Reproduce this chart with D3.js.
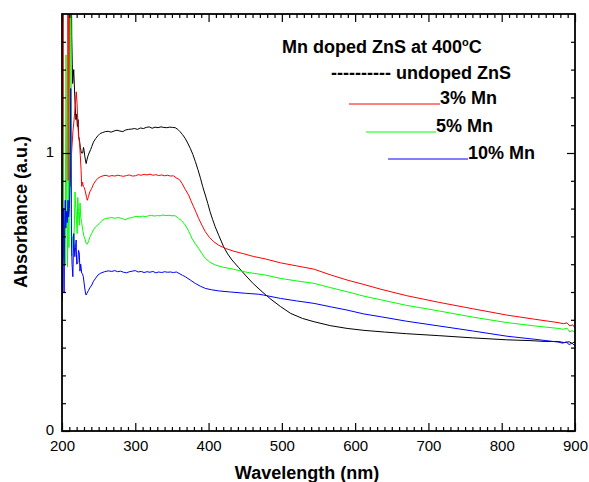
<!DOCTYPE html>
<html>
<head>
<meta charset="utf-8">
<script src="https://cdn.jsdelivr.net/npm/d3@7"></script>
<style>
  html, body { margin: 0; padding: 0; background: #fff; }
  svg { display: block; font-family: "Liberation Sans", Arial, sans-serif; }
</style>
</head>
<body>
<svg id="chart" width="589" height="482"></svg>
<script>
// Absorbance spectra [wavelength nm, absorbance a.u.]
const undopedZnS = [
  [200,0.6],[200.3,1.7],[205,1.75],[210,1.7],[212.6,1.7],[213.3,1.42],[214.5,1.25],[216,1.3],[217.8,1.18],[219,1.12],[220,1.14],[221,1.095],
  [222,1.12],[222.8,1.06],[223.8,1.047],[225,1.02],[226.5,1.0],[228.3,1.0],[229.3,1.02],[230.1,1.01],[231,0.99],[232,0.975],
  [233,0.962],[234,0.975],[235.5,0.99],[237,1.0],[239,1.012],[240.6,1.023],[243,1.04],[246,1.052],[249,1.062],[252,1.07],
  [255,1.073],[259,1.077],[263,1.078],[267,1.075],[271,1.079],[275,1.082],[279,1.079],[283,1.077],[287,1.083],[291,1.085],
  [295,1.086],[299,1.088],[303,1.085],[307,1.09],[311,1.088],[315,1.092],[319,1.094],[323,1.089],[327,1.093],[331,1.091],
  [335,1.094],[339,1.092],[343,1.091],[347,1.093],[351,1.092],[354.5,1.091],[358,1.085],[361,1.077],[364.5,1.066],[368,1.053],
  [371.5,1.036],[375,1.017],[378.5,0.995],[382,0.969],[385.5,0.94],[389,0.909],[392,0.879],[395.5,0.849],[399,0.818],[402,0.789],
  [405.5,0.761],[409,0.735],[414,0.703],[420.5,0.663],[426,0.637],[432,0.615],[441,0.588],[450,0.561],[461,0.53],[473,0.501],
  [485,0.474],[498,0.448],[512,0.423],[528,0.405],[544,0.393],[566,0.379],[589,0.369],[612,0.362],[640,0.356],[670,0.35],
  [714,0.343],[760,0.335],[807,0.328],[840,0.325],[860,0.322],[877,0.322],[885,0.318],[892,0.321],[896,0.315],[900,0.322]
];

const mn3 = [
  [200,0.47],[200.8,1.8],[201.4,0.62],[202,1.8],[203.5,1.7],[205,1.8],[206.5,1.65],[207.5,1.8],[208.3,0.9],[209,1.8],
  [210,1.7],[210.8,0.88],[212,0.95],[213.5,1.02],[215,1.08],[216.5,1.12],[218,1.17],[219.5,1.22],[220.5,1.18],[221.5,1.12],
  [222.5,1.06],[224,1.036],[225,0.99],[226,0.94],[226.9,0.88],[228,0.895],[229.1,0.88],[230.5,0.875],[232,0.86],[233.5,0.84],
  [234.6,0.83],[236,0.843],[238,0.86],[240.6,0.873],[243,0.888],[246,0.9],[249,0.909],[252,0.914],[256,0.918],[260,0.92],
  [264,0.916],[268,0.919],[272,0.917],[276,0.92],[280,0.918],[284,0.916],[288,0.919],[292,0.921],[296,0.917],[300,0.918],
  [304,0.922],[308,0.92],[312,0.923],[316,0.921],[320,0.924],[324,0.92],[328,0.922],[332,0.919],[336,0.921],[340,0.918],
  [344,0.92],[348,0.917],[352,0.918],[356.8,0.909],[360,0.905],[363.7,0.891],[368,0.87],[372.7,0.849],[376,0.828],[379.5,0.807],
  [383,0.786],[386.4,0.765],[391,0.74],[395.5,0.717],[401,0.697],[406.9,0.681],[414,0.668],[422.9,0.657],[434,0.647],[445.7,0.639],
  [461,0.628],[477.5,0.619],[498,0.605],[520,0.594],[544,0.582],[566,0.562],[589,0.543],[612,0.527],[635,0.51],[670,0.487],
  [714,0.463],[760,0.44],[807,0.417],[845,0.402],[877,0.39],[884,0.386],[889,0.389],[893,0.378],[897,0.382],[900,0.37]
];

const mn5 = [
  [200,0.72],[200.7,1.19],[201.5,0.9],[202.3,0.62],[203.3,0.8],[204.3,0.6],[205.5,1.353],[206.5,0.8],[207.5,0.59],[208.5,0.9],
  [209.5,0.66],[210.5,1.0],[211.5,1.6],[212.3,1.45],[213.2,0.63],[214.2,0.7],[215.5,0.66],[216.8,0.73],[217.8,0.86],[218.8,0.8],
  [219.8,0.76],[220.7,0.71],[221.5,0.84],[222.5,0.79],[223.6,0.74],[224.6,0.82],[225.6,0.77],[226.9,0.75],[228.5,0.72],[230,0.7],
  [231.5,0.69],[233,0.675],[234.6,0.672],[236.5,0.685],[238.5,0.7],[240.6,0.711],[243,0.724],[246,0.735],[249,0.741],[252,0.75],
  [256,0.76],[260,0.765],[264,0.766],[268,0.768],[272,0.765],[276,0.768],[280,0.766],[284,0.762],[287,0.76],[290,0.765],
  [294,0.767],[298,0.77],[302,0.772],[306,0.77],[310,0.773],[314,0.771],[318,0.774],[322,0.776],[326,0.773],[330,0.775],
  [334,0.774],[338,0.777],[342,0.775],[346,0.776],[350,0.774],[354,0.775],[359,0.765],[363,0.757],[368.2,0.741],[373,0.718],
  [377.3,0.693],[382,0.673],[386.4,0.657],[391,0.638],[395.5,0.621],[402,0.607],[409.2,0.597],[420,0.589],[432,0.583],[452,0.571],
  [477.5,0.561],[498,0.549],[520,0.54],[544,0.531],[566,0.516],[589,0.501],[612,0.485],[635,0.472],[670,0.452],[714,0.432],
  [760,0.41],[807,0.39],[845,0.378],[877,0.369],[884,0.366],[889,0.37],[893,0.356],[896,0.362],[900,0.353]
];

const mn10 = [
  [200,0.735],[200.5,0.47],[201.3,0.62],[202,0.8],[202.8,0.5],[203.6,0.72],[204.4,0.83],[205.2,0.73],[206.2,0.79],[207.2,0.75],
  [208.2,0.83],[209,0.77],[210,0.8],[211,0.9],[211.9,1.232],[212.8,0.7],[213.7,0.6],[214.8,0.555],[216,0.71],[217.5,0.627],
  [218.5,0.66],[219.3,0.687],[220,0.6],[221.5,0.604],[222.5,0.65],[223.6,0.64],[224.5,0.575],[225.5,0.6],[226.9,0.568],[228,0.565],
  [229.1,0.555],[230.5,0.525],[231.8,0.5],[232.8,0.489],[234,0.495],[236,0.505],[238,0.515],[240.6,0.525],[243,0.539],[246,0.55],
  [249,0.561],[253,0.568],[258,0.573],[263,0.576],[268,0.574],[272,0.577],[276,0.573],[280,0.575],[284,0.571],[288,0.569],
  [292,0.573],[296,0.575],[300,0.577],[304,0.572],[308,0.574],[312,0.57],[316,0.573],[320,0.571],[324,0.574],[328,0.569],
  [332,0.572],[336,0.57],[340,0.573],[344,0.571],[348,0.572],[352,0.57],[356,0.572],[361,0.565],[364.5,0.56],[368.2,0.555],
  [375,0.543],[381.8,0.531],[388.7,0.521],[395.5,0.513],[404,0.508],[413.7,0.504],[430,0.5],[452,0.495],[468.4,0.492],[475,0.489],
  [498,0.477],[520,0.468],[544,0.459],[566,0.447],[589,0.435],[612,0.421],[635,0.411],[670,0.395],[714,0.378],[760,0.36],
  [807,0.341],[845,0.33],[870,0.322],[877,0.32],[883,0.316],[888,0.32],[892,0.311],[896,0.316],[900,0.306]
];

const seriesColors = ["#000000", "#ff0000", "#00ff00", "#0000ff"];
const xMajorTicks = [200, 300, 400, 500, 600, 700, 800, 900];
const yMajorTicks = [0, 1];
const legendLabels = ["---------- undoped ZnS", "3% Mn", "5% Mn", "10% Mn"];

const svg = d3.select("#chart");
const plot = { left: 62, right: 575, top: 14, bottom: 431 };

const x = d3.scaleLinear().domain([200, 900]).range([plot.left, plot.right]);
const y = d3.scaleLinear().domain([0, 1.5]).range([plot.bottom, plot.top]);

const xMinorTicks = d3.range(200, 901, 10).filter(v => v % 100 !== 0);
const yMinorTicks = d3.range(1, 15).map(i => i / 10).filter(v => Math.abs(v - 1) > 1e-9);

svg.append("clipPath").attr("id", "plot-clip")
  .append("rect")
  .attr("x", plot.left).attr("y", plot.top)
  .attr("width", plot.right - plot.left).attr("height", plot.bottom - plot.top);

// spectra
const line = d3.line().x(d => x(d[0])).y(d => y(d[1]));
const curves = svg.append("g").attr("clip-path", "url(#plot-clip)");
[undopedZnS, mn3, mn5, mn10].forEach((s, i) => {
  curves.append("path")
    .datum(s)
    .attr("d", line)
    .attr("fill", "none")
    .attr("stroke", seriesColors[i])
    .attr("stroke-width", 1)
    .attr("stroke-linejoin", "round");
});

// axes with inward ticks
function styleAxis(g) {
  g.select(".domain").remove();
  g.selectAll(".tick line").attr("stroke", "#000").attr("stroke-width", 1.2);
  g.selectAll(".tick text")
    .attr("fill", "#000")
    .style("font-family", "'Liberation Sans', Arial, sans-serif")
    .style("font-size", "15px");
}

svg.append("g").attr("transform", `translate(0,${plot.bottom})`)
  .call(d3.axisBottom(x).tickValues(xMajorTicks).tickSize(-8).tickPadding(9).tickFormat(d3.format("d")))
  .call(styleAxis);
svg.append("g").attr("transform", `translate(0,${plot.bottom})`)
  .call(d3.axisBottom(x).tickValues(xMinorTicks).tickSize(-4).tickFormat(""))
  .call(styleAxis);
svg.append("g").attr("transform", `translate(0,${plot.top})`)
  .call(d3.axisTop(x).tickValues(xMajorTicks).tickSize(-8).tickFormat(""))
  .call(styleAxis);
svg.append("g").attr("transform", `translate(0,${plot.top})`)
  .call(d3.axisTop(x).tickValues(xMinorTicks).tickSize(-4).tickFormat(""))
  .call(styleAxis);

svg.append("g").attr("transform", `translate(${plot.left},0)`)
  .call(d3.axisLeft(y).tickValues(yMajorTicks).tickSize(-8).tickPadding(8).tickFormat(d3.format("d")))
  .call(styleAxis)
  .call(g => g.selectAll(".tick text").attr("dy", "0.22em"));
svg.append("g").attr("transform", `translate(${plot.left},0)`)
  .call(d3.axisLeft(y).tickValues(yMinorTicks).tickSize(-4).tickFormat(""))
  .call(styleAxis);
svg.append("g").attr("transform", `translate(${plot.right},0)`)
  .call(d3.axisRight(y).tickValues(yMajorTicks).tickSize(-8).tickFormat(""))
  .call(styleAxis);
svg.append("g").attr("transform", `translate(${plot.right},0)`)
  .call(d3.axisRight(y).tickValues(yMinorTicks).tickSize(-4).tickFormat(""))
  .call(styleAxis);

// frame
svg.append("rect")
  .attr("x", plot.left).attr("y", plot.top)
  .attr("width", plot.right - plot.left).attr("height", plot.bottom - plot.top)
  .attr("fill", "none").attr("stroke", "#000").attr("stroke-width", 1.8);

// axis titles
svg.append("text")
  .attr("x", 307).attr("y", 479)
  .attr("text-anchor", "middle")
  .style("font-size", "18px").style("font-weight", "bold")
  .text("Wavelength (nm)");

svg.append("text")
  .attr("transform", "translate(27,212) rotate(-90)")
  .attr("text-anchor", "middle")
  .style("font-size", "18px").style("font-weight", "bold")
  .text("Absorbance (a.u.)");

// legend block
const title = svg.append("text")
  .attr("x", 282).attr("y", 53)
  .style("font-size", "18px").style("font-weight", "bold");
title.append("tspan").text("Mn doped ZnS at 400");
title.append("tspan").attr("dy", -7).style("font-size", "11px").text("o");
title.append("tspan").attr("dy", 7).text("C");

svg.append("text")
  .attr("x", 331).attr("y", 79)
  .style("font-size", "18px").style("font-weight", "bold")
  .text(legendLabels[0]);

const legendRows = [
  { x0: 349, x1: 440, y: 104, color: seriesColors[1], label: legendLabels[1] },
  { x0: 366, x1: 436, y: 132, color: seriesColors[2], label: legendLabels[2] },
  { x0: 388, x1: 468, y: 159, color: seriesColors[3], label: legendLabels[3] }
];
legendRows.forEach(r => {
  svg.append("line")
    .attr("x1", r.x0).attr("x2", r.x1).attr("y1", r.y).attr("y2", r.y)
    .attr("stroke", r.color).attr("stroke-width", 1);
  svg.append("text")
    .attr("x", r.x1).attr("y", r.y - 0.5)
    .style("font-size", "18px").style("font-weight", "bold")
    .text(r.label);
});
</script>
</body>
</html>
